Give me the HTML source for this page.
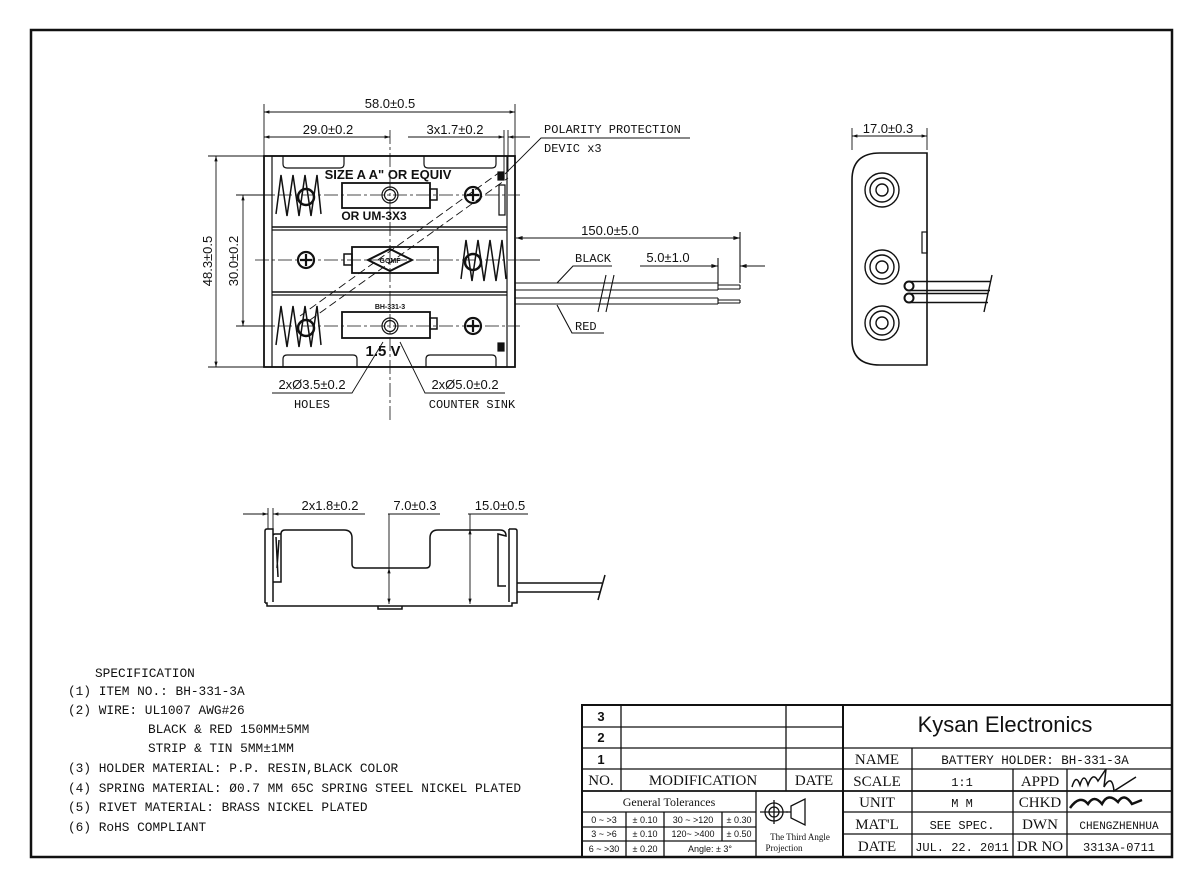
<!DOCTYPE html>
<html><head><meta charset="utf-8"><style>
html,body{margin:0;padding:0;background:#fff}
svg{display:block}
.s{font-family:"Liberation Sans",sans-serif}
.m{font-family:"Liberation Mono","Liberation Serif",serif}
.r{font-family:"Liberation Serif",serif}
</style></head><body>
<svg width="1200" height="887" viewBox="0 0 1200 887" xmlns="http://www.w3.org/2000/svg" fill="none" stroke="#111" stroke-width="1.2">
<defs>
<marker id="a" viewBox="0 0 10 10" refX="10" refY="5" markerWidth="8" markerHeight="6" orient="auto-start-reverse"><path d="M0,2 L10,5 L0,8z" fill="#111" stroke="none"/></marker>
</defs>
<rect x="31" y="30" width="1141" height="827" stroke-width="2.5"/>

<!-- TOP VIEW -->
<rect x="264" y="156" width="251" height="211" stroke-width="1.8"/>
<rect x="272" y="156" width="235" height="211"/>
<line x1="272" y1="227" x2="507" y2="227" stroke-width="1.6"/><line x1="272" y1="230" x2="507" y2="230"/>
<line x1="272" y1="292" x2="507" y2="292" stroke-width="1.6"/><line x1="272" y1="295" x2="507" y2="295"/>
<path d="M283,156 v8 q0,4 4,4 h53 q4,0 4,-4 v-8 M424,156 v8 q0,4 4,4 h64 q4,0 4,-4 v-8"/>
<path d="M283,367 v-8 q0,-4 4,-4 h66 q4,0 4,4 v8 M426,367 v-8 q0,-4 4,-4 h62 q4,0 4,4 v8"/>
<g stroke-dasharray="14,3,3,3" stroke-width="0.8">
<line x1="255" y1="195" x2="520" y2="195"/><line x1="255" y1="260" x2="520" y2="260"/><line x1="255" y1="326" x2="520" y2="326"/>
<line x1="390" y1="130" x2="390" y2="420"/>
</g>
<rect x="342" y="183" width="88" height="25" stroke-width="1.8"/><rect x="430" y="189" width="7" height="11" stroke-width="1.5"/>
<circle cx="390" cy="195" r="8"/><circle cx="390" cy="195" r="5.5"/>
<rect x="352" y="247" width="86" height="26" stroke-width="1.8"/><rect x="344" y="254" width="8" height="11" stroke-width="1.5"/>
<path d="M368,260 L390,249 L412,260 L390,271z" stroke-width="2"/><text x="390" y="263" font-size="7" class="s" fill="#111" stroke="none" text-anchor="middle" font-weight="bold">GOMF</text>
<rect x="342" y="312" width="88" height="26" stroke-width="1.8"/><rect x="430" y="318" width="7" height="11" stroke-width="1.5"/>
<circle cx="390" cy="326" r="8"/><circle cx="390" cy="326" r="5.5"/>
<g stroke-width="2.2">
<circle cx="473" cy="195" r="8"/><path d="M467,195h12M473,189v12"/>
<circle cx="306" cy="260" r="8"/><path d="M300,260h12M306,254v12"/>
<circle cx="473" cy="326" r="8"/><path d="M467,326h12M473,320v12"/>
</g>
<g stroke-width="1.5">
<path d="M276,214 L281,175 L287,216 L293,175 L299,216 L305,175 L311,216 L317,175 L321,214"/>
<circle cx="306" cy="197" r="8" stroke-width="2.5"/>
<path d="M276,345 L281,306 L287,347 L293,306 L299,347 L305,306 L311,347 L317,306 L321,345"/>
<circle cx="306" cy="328" r="8" stroke-width="2.5"/>
<path d="M461,279 L466,240 L472,281 L478,240 L484,281 L490,240 L496,281 L502,240 L506,279"/>
<circle cx="473" cy="262" r="8" stroke-width="2.5"/>
</g>
<rect x="498" y="172" width="6" height="8" fill="#111"/><rect x="498" y="343" width="6" height="8" fill="#111"/>
<path d="M499,185 h6 v30 h-6z"/>
<g stroke-dasharray="8,4" stroke-width="0.9">
<line x1="310" y1="320" x2="508" y2="178"/><line x1="300" y1="316" x2="500" y2="172"/>
</g>
<g class="s" fill="#111" stroke="none" font-weight="bold" text-anchor="middle">
<text x="388" y="179" font-size="13">SIZE A A" OR EQUIV</text>
<text x="374" y="220" font-size="12">OR UM-3X3</text>
<text x="390" y="309" font-size="7">BH-331-3</text>
<text x="383" y="356" font-size="15">1.5 V</text>
</g>
<g stroke-width="0.9">
<line x1="264" y1="104" x2="264" y2="156"/><line x1="515" y1="104" x2="515" y2="156"/>
<line x1="264" y1="112" x2="515" y2="112" marker-start="url(#a)" marker-end="url(#a)"/>
<line x1="264" y1="137" x2="390" y2="137" marker-start="url(#a)" marker-end="url(#a)"/>
<line x1="504" y1="130" x2="504" y2="172"/><line x1="508" y1="130" x2="508" y2="172"/>
<line x1="408" y1="137" x2="504" y2="137" marker-end="url(#a)"/><line x1="530" y1="137" x2="508" y2="137" marker-end="url(#a)"/>
<line x1="208" y1="156" x2="264" y2="156"/><line x1="208" y1="367" x2="264" y2="367"/>
<line x1="216" y1="156" x2="216" y2="367" marker-start="url(#a)" marker-end="url(#a)"/>
<line x1="236" y1="195" x2="272" y2="195"/><line x1="236" y1="326" x2="272" y2="326"/>
<line x1="243" y1="195" x2="243" y2="326" marker-start="url(#a)" marker-end="url(#a)"/>
<path d="M272,393 H352 L383,342" /><path d="M400,342 L425,393 H505"/>
<path d="M690,138 H541 L505,174"/>
</g>
<g class="s" fill="#111" stroke="none" font-size="13" text-anchor="middle">
<text x="390" y="108">58.0±0.5</text>
<text x="328" y="134">29.0±0.2</text>
<text x="455" y="134">3x1.7±0.2</text>
<text transform="translate(212,261) rotate(-90)">48.3±0.5</text>
<text transform="translate(238,261) rotate(-90)">30.0±0.2</text>
<text x="312" y="389">2xØ3.5±0.2</text>
<text x="465" y="389">2xØ5.0±0.2</text>
<text x="610" y="235">150.0±5.0</text>
<text x="668" y="262">5.0±1.0</text>
<text x="888" y="133">17.0±0.3</text>
<text x="330" y="510">2x1.8±0.2</text>
<text x="415" y="510">7.0±0.3</text>
<text x="500" y="510">15.0±0.5</text>
</g>
<g class="m" fill="#111" stroke="none" font-size="12">
<text x="312" y="408" text-anchor="middle">HOLES</text>
<text x="472" y="408" text-anchor="middle">COUNTER SINK</text>
<text x="544" y="133">POLARITY PROTECTION</text>
<text x="544" y="152">DEVIC x3</text>
<text x="575" y="262">BLACK</text>
<text x="575" y="330">RED</text>
</g>
<g stroke-width="1.1">
<path d="M515,283 H718 M515,290 H718 M718,285 H740 M718,289 H740 M740,285 V289"/>
<path d="M515,298 H718 M515,304 H718 M718,300 H740 M718,303 H740 M740,300 V303"/>
<path d="M718,283 V290 M718,298 V304"/>
<path d="M598,312 L606,275 M606,312 L614,275"/>
<line x1="516" y1="238" x2="740" y2="238" marker-start="url(#a)" marker-end="url(#a)"/>
<line x1="740" y1="232" x2="740" y2="283"/><line x1="718" y1="258" x2="718" y2="283"/>
<line x1="640" y1="266" x2="718" y2="266"/><line x1="700" y1="266" x2="718" y2="266" marker-end="url(#a)"/><line x1="765" y1="266" x2="740" y2="266" marker-end="url(#a)"/>
<line x1="520" y1="260" x2="540" y2="260"/>
<path d="M612,266 H573 L557,283" /><path d="M604,333 H572 L557,305"/>
</g>

<!-- SIDE VIEW -->
<path d="M927,153 H880 Q852,153 852,180 V340 Q852,365 880,365 H927 Z" stroke-width="1.6"/>
<rect x="922" y="232" width="5" height="21"/>
<line x1="852" y1="128" x2="852" y2="150" stroke-width="0.9"/><line x1="927" y1="128" x2="927" y2="150" stroke-width="0.9"/>
<line x1="852" y1="136" x2="927" y2="136" stroke-width="0.9" marker-start="url(#a)" marker-end="url(#a)"/>
<g stroke-width="1.4">
<circle cx="882" cy="190" r="17"/><circle cx="882" cy="190" r="12"/><circle cx="882" cy="190" r="6"/>
<circle cx="882" cy="267" r="17"/><circle cx="882" cy="267" r="12"/><circle cx="882" cy="267" r="6"/>
<circle cx="882" cy="323" r="17"/><circle cx="882" cy="323" r="12"/><circle cx="882" cy="323" r="6"/>
<circle cx="909" cy="286" r="4.5" stroke-width="2"/><circle cx="909" cy="298" r="4.5" stroke-width="2"/>
<path d="M909,281.5 H990 M909,290.5 H990 M909,293.5 H988 M909,302.5 H988 M984,312 L992,275"/>
</g>

<!-- BOTTOM VIEW -->
<g stroke-width="1.5">
<path d="M265,603 V531 q0,-2 2,-2 h6 v73 M273,536 q0,-2 2,-2 h6 M265,603 h2 v3 h245 v-3 h5 V531 q0,-2 -2,-2 h-6 M281,534 v48 h-8 M281,534 q0,-4 4,-4 h59 q8,0 8,8 v26 q0,4 4,4 h70 q4,0 4,-4 v-26 q0,-8 8,-8 h62 q6,0 6,6 L498,534 v52 h8 M509,529 v73"/>
<path d="M378,606 v3 h24 v-3"/>
<path d="M517,583 H602 M517,592 H600 M598,600 L605,575"/>
<path d="M276,537 l2,40 M279,540 l-2,28"/>
</g>
<g stroke-width="0.9">
<line x1="268" y1="508" x2="268" y2="529"/><line x1="273" y1="508" x2="273" y2="529"/>
<line x1="243" y1="514" x2="268" y2="514" marker-end="url(#a)"/><line x1="293" y1="514" x2="273" y2="514" marker-end="url(#a)"/>
<line x1="273" y1="514" x2="365" y2="514"/>
<line x1="388" y1="514" x2="440" y2="514"/><line x1="389" y1="514" x2="389" y2="568"/>
<line x1="389" y1="568" x2="389" y2="604" marker-start="url(#a)" marker-end="url(#a)"/>
<line x1="468" y1="514" x2="528" y2="514"/>
<line x1="470" y1="529" x2="470" y2="604" marker-start="url(#a)" marker-end="url(#a)"/><line x1="470" y1="514" x2="470" y2="529"/>
</g>

<!-- SPEC -->
<g class="m" fill="#111" stroke="none" font-size="12.8">
<text x="95" y="677">SPECIFICATION</text>
<text x="68" y="695">(1) ITEM NO.: BH-331-3A</text>
<text x="68" y="714">(2) WIRE: UL1007 AWG#26</text>
<text x="148" y="733">BLACK &amp; RED 150MM±5MM</text>
<text x="148" y="752">STRIP &amp; TIN 5MM±1MM</text>
<text x="68" y="772">(3) HOLDER MATERIAL: P.P. RESIN,BLACK COLOR</text>
<text x="68" y="792">(4) SPRING MATERIAL: Ø0.7 MM 65C SPRING STEEL NICKEL PLATED</text>
<text x="68" y="811">(5) RIVET MATERIAL: BRASS NICKEL PLATED</text>
<text x="68" y="831">(6) RoHS COMPLIANT</text>
</g>

<!-- TITLE BLOCK -->
<g stroke-width="1.3">
<rect x="582" y="705" width="590" height="152" stroke-width="2"/>
<line x1="843" y1="705" x2="843" y2="857" stroke-width="2"/>
<line x1="582" y1="727" x2="843" y2="727"/><line x1="582" y1="748" x2="1172" y2="748"/>
<line x1="582" y1="769" x2="1172" y2="769"/><line x1="582" y1="791" x2="1172" y2="791" stroke-width="1.8"/>
<line x1="843" y1="812" x2="1172" y2="812"/><line x1="843" y1="834" x2="1172" y2="834"/>
<line x1="621" y1="705" x2="621" y2="791"/><line x1="786" y1="705" x2="786" y2="791"/>
<line x1="912" y1="748" x2="912" y2="857"/><line x1="1013" y1="769" x2="1013" y2="857"/><line x1="1067" y1="769" x2="1067" y2="857"/>
<line x1="756" y1="791" x2="756" y2="857"/>
<line x1="582" y1="812" x2="756" y2="812"/><line x1="582" y1="827" x2="756" y2="827"/><line x1="582" y1="841" x2="756" y2="841"/>
<line x1="626" y1="812" x2="626" y2="857"/><line x1="664" y1="812" x2="664" y2="857"/>
<line x1="722" y1="812" x2="722" y2="841"/>
<circle cx="774" cy="812" r="9"/><circle cx="774" cy="812" r="5"/><path d="M760,812h28M774,800v24"/>
<path d="M791,806 L805,799 V825 L791,818Z M786,812h5"/>
</g>
<g class="s" fill="#111" stroke="none" font-size="13" text-anchor="middle">
<text x="601" y="721" font-weight="bold">3</text><text x="601" y="742" font-weight="bold">2</text><text x="601" y="764" font-weight="bold">1</text>
<text x="1005" y="732" font-size="22">Kysan Electronics</text>
<g font-size="9">
<text x="604" y="823">0 ~ &gt;3</text><text x="645" y="823">± 0.10</text><text x="693" y="823">30 ~ &gt;120</text><text x="739" y="823">± 0.30</text>
<text x="604" y="837">3 ~ &gt;6</text><text x="645" y="837">± 0.10</text><text x="693" y="837">120~ &gt;400</text><text x="739" y="837">± 0.50</text>
<text x="604" y="852">6 ~ &gt;30</text><text x="645" y="852">± 0.20</text><text x="710" y="852">Angle: ± 3°</text>
</g>
</g>
<g class="r" fill="#111" stroke="none" font-size="15" text-anchor="middle">
<text x="601" y="785">NO.</text><text x="703" y="785">MODIFICATION</text><text x="814" y="785">DATE</text>
<text x="669" y="806" font-size="12">General Tolerances</text>
<text x="800" y="840" font-size="9">The Third Angle</text><text x="784" y="851" font-size="9">Projection</text>
<text x="877" y="764">NAME</text><text x="877" y="786">SCALE</text><text x="877" y="807">UNIT</text><text x="877" y="829">MAT'L</text><text x="877" y="851">DATE</text>
<text x="1040" y="786">APPD</text><text x="1040" y="807">CHKD</text><text x="1040" y="829">DWN</text><text x="1040" y="851">DR NO</text>
<g class="m" font-size="12">
<text x="1035" y="764" font-size="12.5">BATTERY HOLDER: BH-331-3A</text>
<text x="962" y="786">1:1</text><text x="962" y="807">M M</text><text x="962" y="829">SEE SPEC.</text><text x="962" y="851">JUL. 22. 2011</text>
<text x="1119" y="829" font-size="11">CHENGZHENHUA</text><text x="1119" y="851">3313A-0711</text>
</g>
</g>
<path d="M1072,787 q4,-14 8,-2 q4,-14 8,0 q5,-14 10,-4 l8,-12 l-2,18 q8,-14 10,4 l22,-14" stroke-width="1.5"/>
<path d="M1070,808 q10,-14 18,-4 q6,-10 14,0 q6,-12 16,-2 q6,-10 14,2 l10,-4" stroke-width="2.5"/>
</svg>
</body></html>
